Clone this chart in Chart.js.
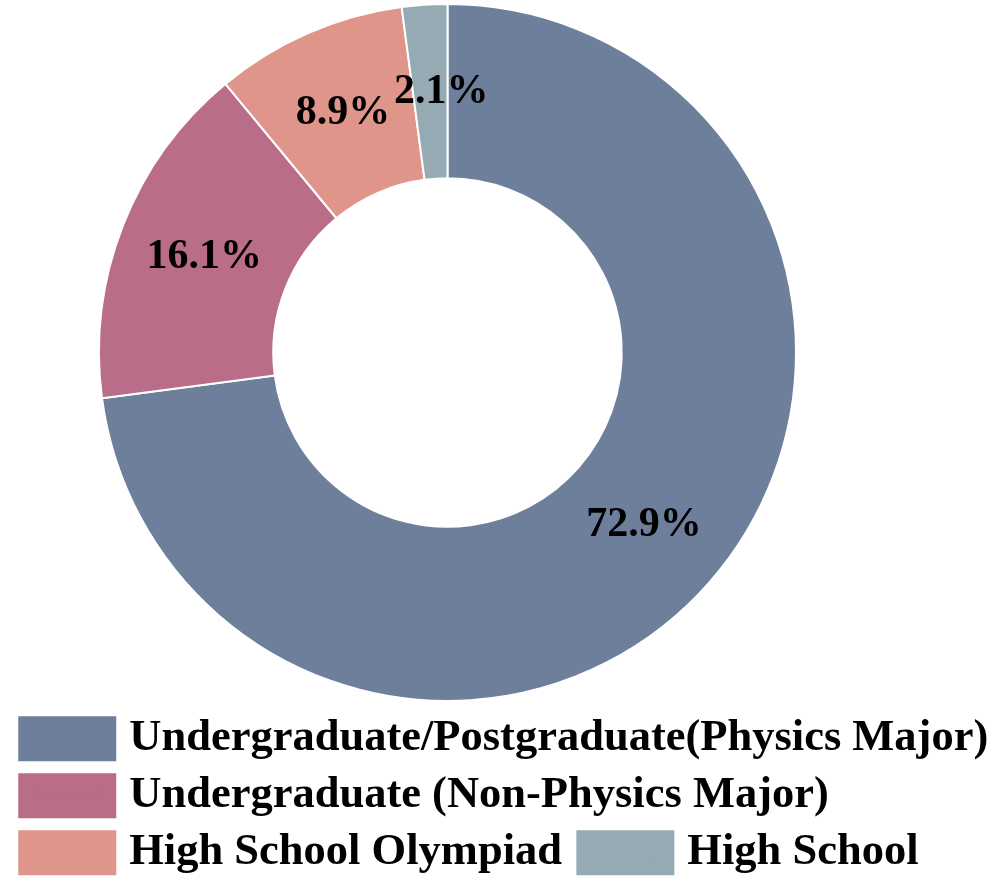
<!DOCTYPE html>
<html>
<head>
<meta charset="utf-8">
<script src="https://cdn.jsdelivr.net/npm/chart.js@4/dist/chart.umd.min.js"></script>
<style>
  html, body { margin: 0; padding: 0; background: #ffffff; }
  #wrap { width: 996px; height: 885px; position: relative; }
</style>
</head>
<body>
<div id="wrap"><canvas id="c" width="996" height="885"></canvas></div>
<script>
// ---- data ----
const categories = [
  'Undergraduate/Postgraduate(Physics Major)',
  'Undergraduate (Non-Physics Major)',
  'High School Olympiad ',
  'High School'
];
const shares = [72.9, 16.1, 8.9, 2.1];
const pctLabels = ['72.9%', '16.1%', '8.9%', '2.1%'];
const sliceColors = ['#6E7F9B', '#B96D89', '#E0958B', '#96AAB4'];

const serif = "'Liberation Serif', 'Times New Roman', serif";

const pctPlugin = {
  id: 'pctLabels',
  afterDatasetsDraw(chart, args, opts) {
    const ctx = chart.ctx;
    const meta = chart.getDatasetMeta(0);
    const nudge = opts.nudgeX || [];
    ctx.save();
    ctx.font = "bold 42px " + serif;
    ctx.fillStyle = '#000000';
    ctx.textAlign = 'center';
    ctx.textBaseline = 'middle';
    meta.data.forEach((arc, i) => {
      const p = arc.tooltipPosition();
      ctx.fillText(pctLabels[i], p.x + (nudge[i] || 0), p.y);
    });
    ctx.restore();
  }
};

const areaPlugin = {
  id: 'areaShift',
  afterLayout(chart) {
    const a = chart.chartArea;
    a.right -= 116;
    a.bottom -= 2;
    a.width = a.right - a.left;
    a.height = a.bottom - a.top;
  }
};

new Chart(document.getElementById('c'), {
  type: 'doughnut',
  data: {
    labels: categories,
    datasets: [{
      data: shares,
      backgroundColor: sliceColors,
      borderColor: '#ffffff',
      borderWidth: 2
    }]
  },
  options: {
    responsive: false,
    animation: false,
    cutout: '50%',
    layout: { padding: { top: 3, left: 15, right: 0, bottom: 0 } },
    plugins: {
      tooltip: { enabled: false },
      pctLabels: { nudgeX: [0, 0, 0, 11] },
      legend: {
        position: 'bottom',
        align: 'start',
        labels: {
          boxWidth: 79.5,
          boxHeight: 26.5,
          padding: 12.5,
          color: '#000000',
          font: { family: serif, size: 44.5, weight: 'bold' },
          generateLabels(chart) {
            return chart.data.labels.map((t, i) => ({
              text: t,
              fillStyle: sliceColors[i],
              strokeStyle: sliceColors[i],
              lineWidth: 18.5,
              lineJoin: 'miter',
              hidden: false,
              index: i
            }));
          }
        }
      }
    }
  },
  plugins: [pctPlugin, areaPlugin]
});
</script>
</body>
</html>
